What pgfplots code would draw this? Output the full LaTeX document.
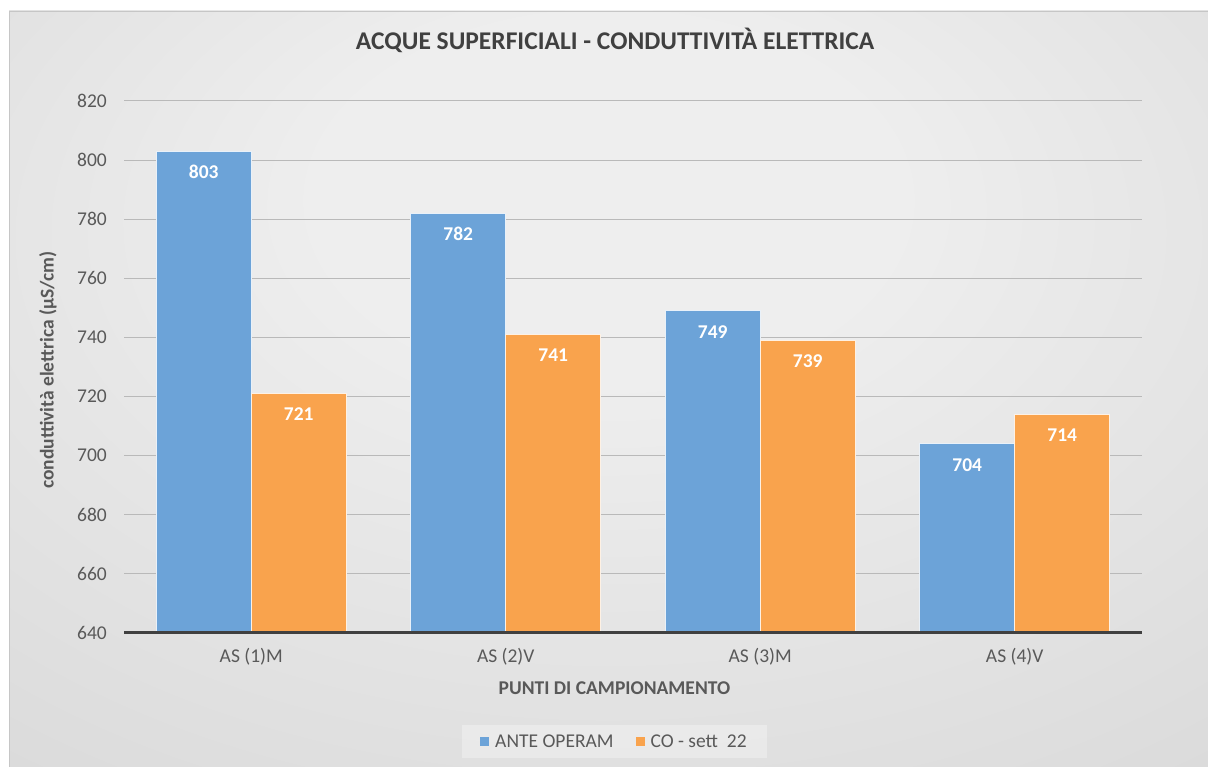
\documentclass[border=0pt]{standalone}
\usepackage{fontspec}
\setmainfont{Carlito}
\usepackage{pgfplots}
\pgfplotsset{compat=1.18}
\definecolor{barblue}{RGB}{108,163,216}
\definecolor{barorange}{RGB}{249,163,77}
\definecolor{txtgray}{RGB}{89,89,89}
\definecolor{titlegray}{RGB}{64,64,64}
\definecolor{gridgray}{RGB}{185,185,185}
\definecolor{axisdark}{RGB}{64,64,64}
\definecolor{bgin}{RGB}{238,238,238}
\definecolor{bgout}{RGB}{196,196,196}
\pgfdeclareradialshading{chartbg}{\pgfpoint{0bp}{15bp}}{color(0bp)=(bgin); color(12bp)=(bgin); color(75bp)=(bgout)}
\begin{document}
\begin{tikzpicture}
\useasboundingbox (0pt,0pt) rectangle (1208pt,767pt);
\shade[shading=chartbg] (9pt,0pt) rectangle (1208pt,756pt);
\draw[gray!45, line width=0.8pt] (9pt,0pt) -- (9pt,756pt) -- (1208pt,756pt);
\begin{axis}[
  at={(124pt,134pt)}, anchor=south west,
  scale only axis, width=1018pt, height=532pt,
  ybar, bar width=95pt,
  xmin=-0.5, xmax=3.5, ymin=640, ymax=820,
  xtick={0,1,2,3},
  xticklabels={AS (1)M, AS (2)V, AS (3)M, AS (4)V},
  ytick={640,660,...,820},
  major tick length=0pt,
  axis line style={draw=none},
  ymajorgrids, grid style={gridgray, line width=1pt},
  /pgf/number format/assume math mode=true,
  ticklabel style={font=\fontsize{19.5}{20}\selectfont, text=txtgray},
  xticklabel style={anchor=center, yshift=-24pt},
  yticklabel style={anchor=east, inner sep=0pt, xshift=-17pt},
  title={ACQUE SUPERFICIALI - CONDUTTIVITÀ ELETTRICA},
  title style={at={(axis description cs:0.4825,1)}, anchor=center, yshift=55pt,
    font=\fontsize{25.5}{27}\selectfont\bfseries, text=titlegray},
  xlabel={PUNTI DI CAMPIONAMENTO},
  xlabel style={at={(axis description cs:0.4818,0)}, anchor=center, yshift=-55pt,
    font=\fontsize{19.5}{20}\selectfont\bfseries, text=txtgray},
  ylabel={conduttività elettrica (µS/cm)},
  ylabel style={at={(axis description cs:-0.0747,0.494)}, anchor=center,
    font=\fontsize{19.5}{20}\selectfont\bfseries, text=txtgray},
  nodes near coords={\pgfmathprintnumber{\pgfplotspointmeta}},
  nodes near coords style={font=\fontsize{19.5}{20}\selectfont\bfseries, text=white, anchor=center, yshift=-21pt},
  legend columns=2,
  legend image code/.code={\fill[#1, draw=none, fill opacity=1] (0pt,-4.5pt) rectangle (9pt,4.5pt);},
  legend style={at={(axis description cs:0.4818,-0.204)}, anchor=center,
    draw=none, fill=white, fill opacity=0.3, text opacity=1,
    font=\fontsize{19.5}{20}\selectfont, text=txtgray,
    inner xsep=18pt, inner ysep=7pt,
    /tikz/every odd column/.append style={column sep=4pt},
    /tikz/every even column/.append style={column sep=20pt}},
  after end axis/.code={\draw[axisdark, line width=3pt] (rel axis cs:0,0) -- (rel axis cs:1,0);},
]
\addplot[fill=barblue, draw=white!85!barblue, line width=0.8pt, bar shift=-47.5pt]
  coordinates {(0,803) (1,782) (2,749) (3,704)};
\addplot[fill=barorange, draw=white!85!barorange, line width=0.8pt, bar shift=47.5pt]
  coordinates {(0,721) (1,741) (2,739) (3,714)};
\legend{ANTE OPERAM, CO - sett~ 22}
\end{axis}
\end{tikzpicture}
\end{document}
